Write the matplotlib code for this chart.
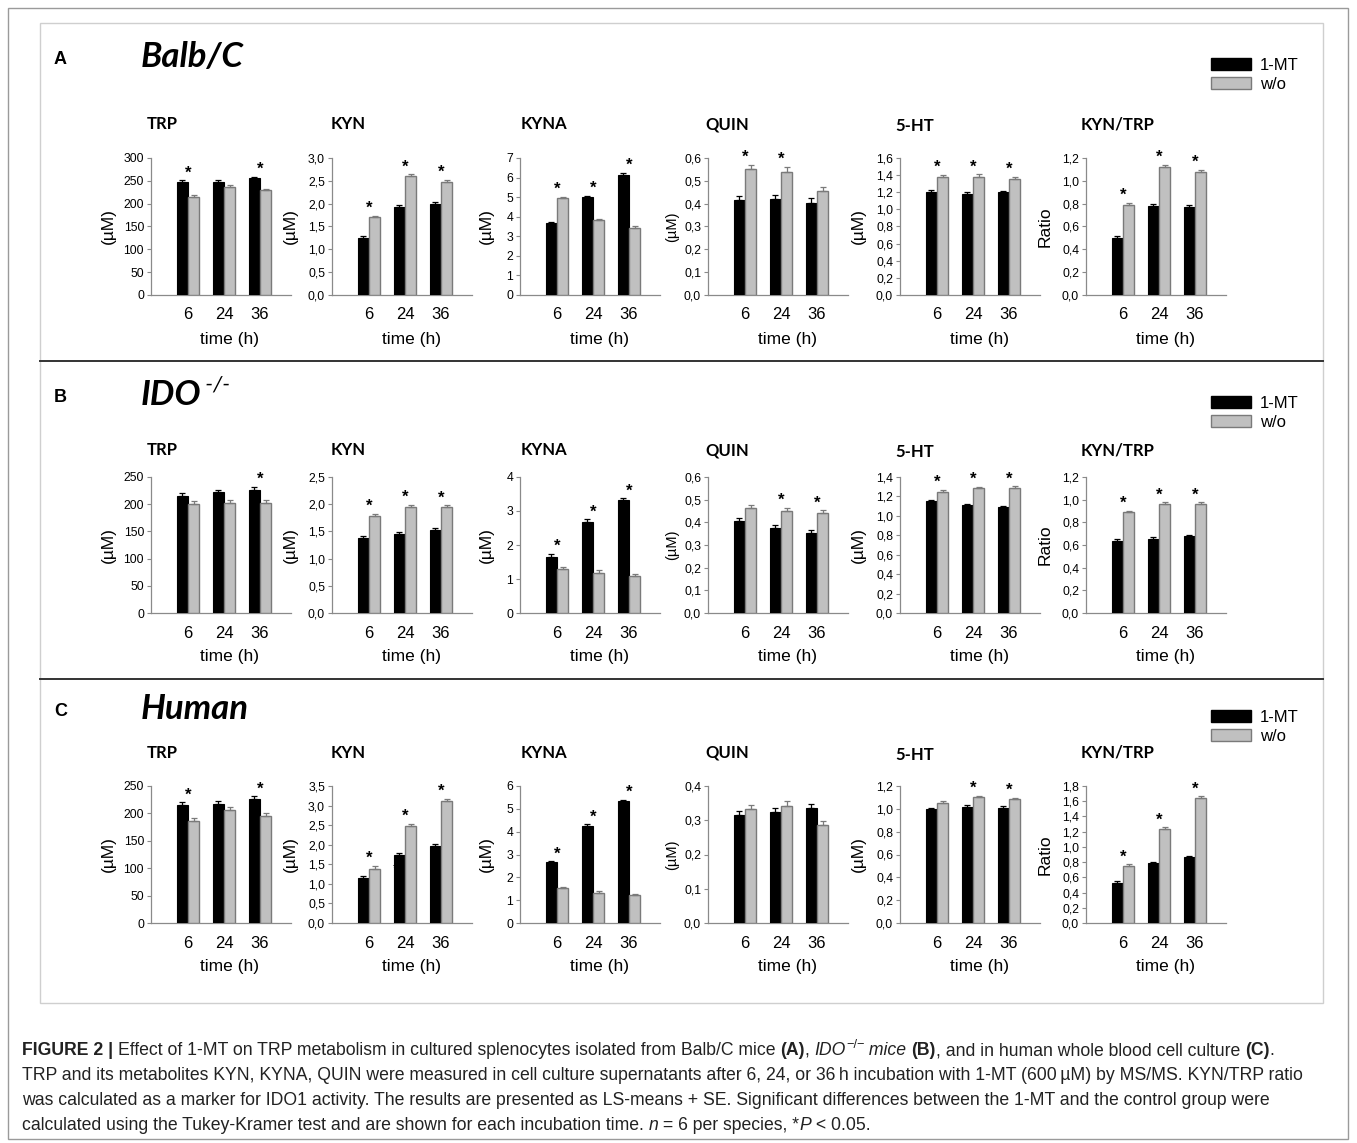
"""Effect of 1-MT on TRP metabolism: three rows of grouped bar panels."""

import matplotlib
matplotlib.use("Agg")
import matplotlib.pyplot as plt
import numpy as np
from matplotlib.patches import Rectangle
from matplotlib.lines import Line2D

W, H = 1357, 1143

ANALYTES = ["TRP", "KYN", "KYNA", "QUIN", "5-HT", "KYN/TRP"]
TIMES = ["6", "24", "36"]
SERIES = ["1-MT", "w/o"]

# --- A: Balb/C -------------------------------------------------------------
balbc_mt = [[247, 248, 256], [1.25, 1.93, 2.00], [3.67, 5.00, 6.15],
            [0.415, 0.42, 0.405], [1.20, 1.18, 1.20], [0.50, 0.78, 0.775]]
balbc_wo = [[215, 237, 230], [1.70, 2.60, 2.48], [4.95, 3.82, 3.42],
            [0.55, 0.54, 0.455], [1.38, 1.38, 1.35], [0.79, 1.125, 1.08]]
balbc_mt_se = [[4, 3, 3], [0.04, 0.04, 0.04], [0.08, 0.08, 0.08],
               [0.02, 0.02, 0.02], [0.03, 0.02, 0.02], [0.015, 0.015, 0.015]]
balbc_wo_se = [[4, 3, 2], [0.04, 0.04, 0.04], [0.08, 0.08, 0.08],
               [0.02, 0.02, 0.02], [0.02, 0.03, 0.03], [0.015, 0.015, 0.015]]
balbc_sig = [[1, 0, 1], [1, 1, 1], [1, 1, 1], [1, 1, 0], [1, 1, 1], [1, 1, 1]]
balbc_ymax = [300, 3.0, 7, 0.6, 1.6, 1.2]
balbc_ystep = [50, 0.5, 1, 0.1, 0.2, 0.2]

# --- B: IDO-/- -------------------------------------------------------------
ido_mt = [[215, 222, 227], [1.38, 1.45, 1.52], [1.66, 2.68, 3.31],
          [0.405, 0.377, 0.352], [1.155, 1.11, 1.09], [0.635, 0.655, 0.68]]
ido_wo = [[200, 203, 202], [1.78, 1.95, 1.94], [1.28, 1.19, 1.10],
          [0.465, 0.45, 0.44], [1.25, 1.29, 1.285], [0.89, 0.96, 0.96]]
ido_mt_se = [[5, 5, 5], [0.04, 0.04, 0.04], [0.07, 0.07, 0.06],
             [0.013, 0.013, 0.013], [0.012, 0.012, 0.012], [0.015, 0.012, 0.01]]
ido_wo_se = [[5, 5, 5], [0.04, 0.04, 0.04], [0.07, 0.07, 0.06],
             [0.013, 0.013, 0.013], [0.015, 0.012, 0.018], [0.012, 0.015, 0.015]]
ido_sig = [[0, 0, 1], [1, 1, 1], [1, 1, 1], [0, 1, 1], [1, 1, 1], [1, 1, 1]]
ido_ymax = [250, 2.5, 4, 0.6, 1.4, 1.2]
ido_ystep = [50, 0.5, 1, 0.1, 0.2, 0.2]

# --- C: Human --------------------------------------------------------------
human_mt = [[216, 218, 227], [1.16, 1.73, 1.97], [2.65, 4.27, 5.33],
            [0.315, 0.325, 0.335], [1.00, 1.015, 1.01], [0.53, 0.79, 0.87]]
human_wo = [[187, 207, 196], [1.39, 2.48, 3.12], [1.53, 1.33, 1.22],
            [0.333, 0.343, 0.285], [1.05, 1.10, 1.085], [0.75, 1.24, 1.645]]
human_mt_se = [[4, 4, 4], [0.05, 0.05, 0.05], [0.05, 0.05, 0.05],
               [0.012, 0.012, 0.012], [0.01, 0.015, 0.015], [0.02, 0.015, 0.015]]
human_wo_se = [[4, 4, 4], [0.06, 0.05, 0.05], [0.05, 0.05, 0.04],
               [0.012, 0.012, 0.012], [0.015, 0.012, 0.012], [0.02, 0.015, 0.02]]
human_sig = [[1, 0, 1], [1, 1, 1], [1, 1, 1], [0, 0, 0], [0, 1, 1], [1, 1, 1]]
human_ymax = [250, 3.5, 6, 0.4, 1.2, 1.8]
human_ystep = [50, 0.5, 1, 0.1, 0.2, 0.2]

SECTIONS = [
    ("A", "Balb/C", "", balbc_mt, balbc_wo, balbc_mt_se, balbc_wo_se,
     balbc_sig, balbc_ymax, balbc_ystep),
    ("B", "IDO", " -/-", ido_mt, ido_wo, ido_mt_se, ido_wo_se,
     ido_sig, ido_ymax, ido_ystep),
    ("C", "Human", "", human_mt, human_wo, human_mt_se, human_wo_se,
     human_sig, human_ymax, human_ystep),
]

# layout in pixels
ROW_TOP = [158, 477, 786]      # y of top tick
ROW_ZERO = [295, 613, 923]     # y of zero line
ROW_HEAD = [55, 393, 707]      # section heading centre
ROW_TITLE = [124, 450, 753]
PANEL_C0 = [188, 369, 557, 745, 937, 1123]
TITLE_X = [147, 331, 521, 705, 895, 1081]
TITLE_DY = [0, 0, 0, 0, 2, 0]
YLABEL_X = [108, 290, 486, 672, 858, 1045]
GROUP_PX = 36.0
BAR_W = 0.31

BLACK = "#000000"
GREY = "#c0c0c0"
GREY_EDGE = "#7a7a7a"
SPINE = "#8a8a8a"
TITLE_FONT = ["Lato", "DejaVu Sans"]
ARIAL = ["Liberation Sans", "DejaVu Sans"]


def fx(px):
    return px / W


def fy(py):
    return 1 - py / H


def fmt_tick(v, step):
    if step >= 1:
        return f"{int(round(v))}"
    return f"{v:.1f}".replace(".", ",")


def draw_panel(fig, row, col, mt, wo, mt_se, wo_se, sig, ymax, ystep):
    left = PANEL_C0[col] - 37
    width = 140
    top, zero = ROW_TOP[row], ROW_ZERO[row]
    ax = fig.add_axes([fx(left), fy(zero), fx(width), (zero - top) / H])
    x = np.arange(len(TIMES))
    ax.bar(x - BAR_W / 2, mt, BAR_W, color=BLACK, edgecolor=BLACK, lw=0.8,
           yerr=[np.zeros(3), mt_se], ecolor=BLACK,
           error_kw=dict(elinewidth=0.9, capsize=2.2, capthick=0.9), zorder=3)
    ax.bar(x + BAR_W / 2, wo, BAR_W, color=GREY, edgecolor=GREY_EDGE, lw=1.0,
           yerr=[np.zeros(3), wo_se], ecolor=GREY_EDGE,
           error_kw=dict(elinewidth=0.9, capsize=2.2, capthick=0.9), zorder=3)
    ax.set_xlim(-37 / GROUP_PX, (width - 37) / GROUP_PX)
    ax.set_ylim(0, ymax)
    ticks = np.round(np.arange(0, ymax + ystep / 2, ystep), 6)
    ax.set_yticks(ticks)
    ax.set_yticklabels([fmt_tick(t, ystep) for t in ticks], family=ARIAL,
                       fontsize=8.8)
    ax.set_xticks(x)
    ax.set_xticklabels(TIMES, family=ARIAL, fontsize=12)
    ax.tick_params(axis="x", length=0, pad=9)
    ax.tick_params(axis="y", length=3, width=0.8, color=SPINE, pad=2)
    for s in ("top", "right"):
        ax.spines[s].set_visible(False)
    for s in ("left", "bottom"):
        ax.spines[s].set_color(SPINE)
        ax.spines[s].set_linewidth(0.9)
    # significance stars
    for i in range(3):
        if sig[i]:
            peak = max(mt[i] + mt_se[i], wo[i] + wo_se[i])
            ax.annotate("*", (x[i], peak), xytext=(0, 0),
                        textcoords="offset points", ha="center", va="bottom",
                        fontsize=12, fontweight="bold", family=ARIAL)
    return ax


fig = plt.figure(figsize=(W / 100, H / 100), dpi=100)

# outer frame and inner box
fig.patches.append(Rectangle((fx(8), fy(1139)), fx(1340), (1139 - 8) / H,
                             transform=fig.transFigure, fill=False,
                             edgecolor="#9a9a9a", lw=1.0))
fig.patches.append(Rectangle((fx(40), fy(1003)), fx(1283), (1003 - 23) / H,
                             transform=fig.transFigure, fill=False,
                             edgecolor="#cfcfcf", lw=1.0))
for yy in (361, 679):
    fig.add_artist(Line2D([fx(40), fx(1323)], [fy(yy), fy(yy)],
                          transform=fig.transFigure, color="#333333", lw=1.4))

for row, (letter, name, sup, mt, wo, mt_se, wo_se, sig, ymax, ystep) in \
        enumerate(SECTIONS):
    hy = ROW_HEAD[row]
    fig.text(fx(54), fy(hy + 4), letter, family=ARIAL, fontsize=13,
             fontweight="bold", va="center")
    fig.text(fx(141), fy(hy + 2), name, family=TITLE_FONT, fontsize=25,
             fontweight="bold", fontstyle="italic", va="center")
    if sup:
        fig.text(fx(200), fy(hy - 8), sup, family=TITLE_FONT, fontsize=16,
                 fontstyle="italic", va="center")
    for col in range(len(ANALYTES)):
        draw_panel(fig, row, col, mt[col], wo[col], mt_se[col],
                   wo_se[col], sig[col], ymax[col], ystep[col])
        fig.text(fx(TITLE_X[col]), fy(ROW_TITLE[row] + TITLE_DY[col]),
                 ANALYTES[col], family=TITLE_FONT, fontsize=12,
                 fontweight="bold", va="center", ha="left")
        ymid = (ROW_TOP[row] + ROW_ZERO[row]) / 2
        lab = "Ratio" if col == 5 else "(µM)"
        fig.text(fx(YLABEL_X[col]), fy(ymid), lab, family=ARIAL,
                 fontsize=10.5 if col == 3 else 12.5, rotation=90,
                 ha="center", va="center")
        fig.text(fx(PANEL_C0[col] + GROUP_PX + 6), fy(ROW_ZERO[row] + 44),
                 "time (h)", family=ARIAL, fontsize=12.5, ha="center",
                 va="center")
    handles = [Rectangle((0, 0), 1, 1, facecolor=BLACK, edgecolor=BLACK),
               Rectangle((0, 0), 1, 1, facecolor=GREY, edgecolor=GREY_EDGE)]
    fig.legend(handles, SERIES, loc="upper left",
               bbox_to_anchor=(fx(1211), fy(hy + 3)), frameon=False,
               prop=dict(family=ARIAL, size=12), handlelength=2.4,
               handleheight=0.75, labelspacing=0.22, handletextpad=0.55,
               borderpad=0, borderaxespad=0)

# stray star next to the human KYN 24 h bar
fig.text(fx(395), fy(868), "*", family=ARIAL, fontsize=8, ha="center",
         va="center")

# caption, drawn run by run
CAP = ["Liberation Sans", "DejaVu Sans"]
caption_lines = [
    [("FIGURE 2 | ", "bold", "normal", 0),
     ("Effect of 1-MT on TRP metabolism in cultured splenocytes isolated from "
      "Balb/C mice ", "normal", "normal", 0),
     ("(A)", "bold", "normal", 0), (", ", "normal", "normal", 0),
     ("IDO", "normal", "italic", 0), ("\u2212/\u2212", "normal", "normal", 1),
     (" mice ", "normal", "italic", 0), ("(B)", "bold", "normal", 0),
     (", and in human whole blood cell culture ", "normal", "normal", 0),
     ("(C)", "bold", "normal", 0), (".", "normal", "normal", 0)],
    [("TRP and its metabolites KYN, KYNA, QUIN were measured in cell culture "
      "supernatants after 6, 24, or 36\u2009h incubation with 1-MT "
      "(600\u2009\u00b5M) by MS/MS. KYN/TRP ratio", "normal", "normal", 0)],
    [("was calculated as a marker for IDO1 activity. The results are "
      "presented as LS-means + SE. Significant differences between the 1-MT "
      "and the control group were", "normal", "normal", 0)],
    [("calculated using the Tukey-Kramer test and are shown for each "
      "incubation time. ", "normal", "normal", 0),
     ("n", "normal", "italic", 0), (" = 6 per species, *", "normal", "normal", 0),
     ("P", "normal", "italic", 0), (" < 0.05.", "normal", "normal", 0)],
]
renderer = fig.canvas.get_renderer()


def run_width(text, size, weight, style):
    probe = fig.text(0, 0, "|" + text + "|", family=CAP, fontsize=size,
                     fontweight=weight, fontstyle=style)
    bar = fig.text(0, 0, "||", family=CAP, fontsize=size,
                   fontweight=weight, fontstyle=style)
    wdt = (probe.get_window_extent(renderer).width
           - bar.get_window_extent(renderer).width)
    probe.remove()
    bar.remove()
    return wdt


def line_width(runs, size):
    return sum(run_width(t, size * (0.7 if s else 1.0), w, st)
               for t, w, st, s in runs)


# size the caption so the two longest lines sit close to the original width
ref_size = 12.0
widest = max(line_width(caption_lines[0], ref_size),
             line_width(caption_lines[1], ref_size))
cap_size = ref_size * 1286 / widest

for li, runs in enumerate(caption_lines):
    xpos = 22
    base = 1055 + li * 25
    for text, weight, style, sup in runs:
        size = cap_size * (0.72 if sup else 1.0)
        yb = base - (7 if sup else 0)
        fig.text(fx(xpos), fy(yb), text, family=CAP, fontsize=size,
                 fontweight=weight, fontstyle=style, va="baseline",
                 color="#222222")
        xpos += run_width(text, size, weight, style)

fig.savefig("out.png", dpi=100)
